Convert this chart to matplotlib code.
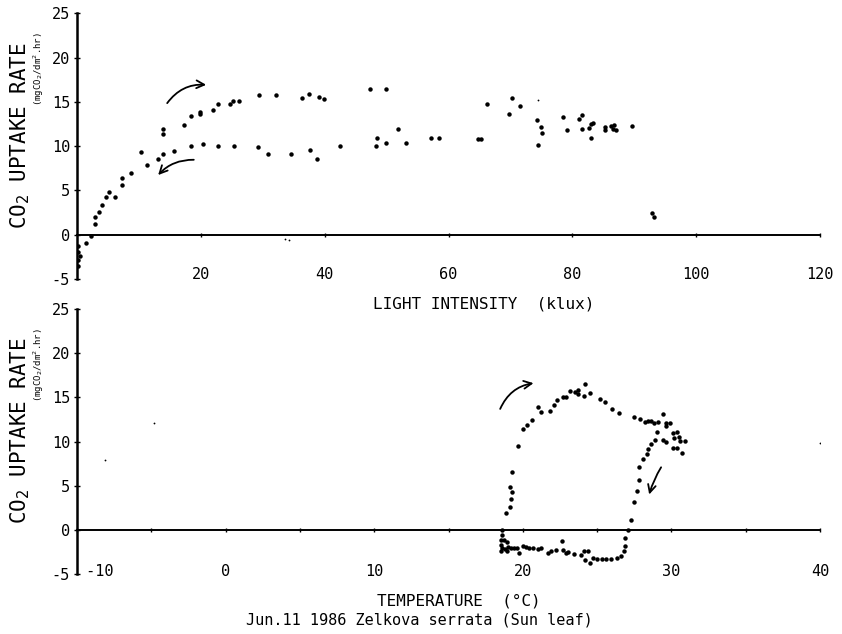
import numpy as np
import matplotlib.pyplot as plt
from matplotlib.patches import FancyArrowPatch

plt.rcParams['font.family'] = ['DejaVu Sans Mono', 'DejaVu Sans']
plt.rcParams['axes.unicode_minus'] = False

# light response curve, klux vs mgCO2/dm2.hr
light_klux = [0.2, 0.1, 0.4, 0.1, 0.2, 1.4, 2.2, 2.9, 2.9, 3.55, 4.1, 4.7, 5.2, 6.2, 7.2, 7.2,
              8.7, 10.4, 11.3, 13.1, 13.9, 13.9, 13.9, 15.7, 17.3, 18.4, 18.4, 19.9, 19.9, 20.4,
              22.0, 22.8, 22.8, 24.7, 25.2, 26.2, 25.4, 29.4, 29.2, 30.9, 32.2, 34.6, 36.4, 37.5,
              37.6, 38.8, 39.1, 39.9, 42.4, 47.3, 48.2, 48.5, 49.9, 49.9, 51.9, 53.1, 57.1, 58.5,
              64.7, 65.3, 66.2, 69.8, 70.2, 71.6, 74.2, 75.0, 75.1, 74.4, 78.4, 79.2, 81.0, 81.5,
              81.6, 82.6, 83.0, 83.4, 83.0, 85.2, 85.2, 86.3, 86.7, 86.6, 87.0, 89.6, 92.9, 93.1]
light_rate = [-1.3, -2.0, -2.4, -2.9, -3.5, -0.9, -0.1, 1.2, 2.0, 2.6, 3.4, 4.2, 4.8, 4.3, 5.6, 6.4,
              7.0, 9.3, 7.9, 8.5, 9.1, 11.4, 11.9, 9.5, 12.4, 10.0, 13.35, 13.9, 13.6, 10.2,
              14.1, 10.0, 14.75, 14.75, 15.05, 15.05, 10.0, 15.8, 9.9, 9.1, 15.8, 9.1, 15.4, 15.9,
              9.55, 8.5, 15.6, 15.3, 10.0, 16.5, 10.05, 10.9, 16.4, 10.3, 11.9, 10.4, 10.9, 10.9,
              10.75, 10.85, 14.8, 13.65, 15.4, 14.55, 12.9, 12.2, 11.5, 10.1, 13.3, 11.85, 13.05, 13.5,
              11.9, 12.0, 12.5, 12.6, 10.95, 12.2, 11.8, 12.3, 12.4, 11.95, 11.85, 12.3, 2.4, 2.0]
light_faint_klux = [74.5, 33.6, 34.2]
light_faint_rate = [15.2, -0.5, -0.6]

# temperature response, degC vs mgCO2/dm2.hr
temp_c = [18.6, 18.6, 18.5, 18.7, 18.9, 18.5, 18.6, 18.8, 18.9, 18.5, 19.0, 19.2, 19.4, 19.6,
          19.75, 20.0, 20.2, 20.4, 20.65, 21.0, 21.2, 21.7, 21.9, 22.2, 22.6, 22.7, 22.9, 23.05,
          23.45, 23.9, 24.1, 24.35, 24.2, 24.5, 24.7, 25.0, 25.3, 25.6, 25.95, 26.3, 26.6, 26.8,
          26.85, 26.9, 27.05,
          18.85, 19.15, 19.2, 19.26, 19.1, 19.3, 19.7, 20.0, 20.3, 20.6, 21.0, 21.2, 21.8, 22.1,
          22.3, 22.7, 22.9, 23.2, 23.5, 23.7, 23.7, 24.1, 24.2, 24.5, 25.2, 25.5, 26.0, 26.5,
          27.5, 27.9, 28.2, 28.4, 28.6, 28.8, 29.1, 29.4, 29.6, 29.9, 29.6, 29.0, 29.4, 29.6,
          30.1, 30.4, 30.2, 30.5, 30.6, 30.9, 30.1, 30.4, 30.7,
          28.9, 28.6, 28.4, 28.35, 28.1, 27.8, 27.8, 27.7, 27.5, 27.3]
temp_rate = [0.0, -0.55, -1.1, -1.2, -1.4, -1.7, -2.0, -2.2, -2.4, -2.45, -1.9, -2.0, -2.1, -2.1,
             -2.6, -1.8, -1.9, -2.0, -2.1, -2.2, -2.1, -2.6, -2.45, -2.3, -1.3, -2.25, -2.6, -2.5,
             -2.7, -2.8, -2.45, -2.35, -3.4, -3.8, -3.2, -3.3, -3.25, -3.3, -3.35, -3.2, -3.0, -2.45,
             -1.8, -0.95, 0.0,
             1.95, 2.6, 3.5, 4.3, 4.8, 6.5, 9.5, 11.4, 11.9, 12.4, 13.95, 13.3, 13.5, 14.1,
             14.7, 15.0, 15.0, 15.7, 15.6, 15.8, 15.35, 15.2, 16.5, 15.5, 14.85, 14.5, 13.7, 13.2,
             12.8, 12.5, 12.25, 12.3, 12.3, 12.1, 12.25, 13.1, 12.1, 12.05, 11.75, 11.1, 10.2, 10.0,
             11.0, 11.05, 10.4, 10.5, 10.1, 10.1, 9.3, 9.3, 8.75,
             10.2, 9.7, 9.1, 8.6, 8.0, 7.1, 5.65, 4.45, 3.1, 1.1]
temp_faint_c = [-8.1, -4.8, 40.0]
temp_faint_rate = [7.9, 12.1, 9.8]

# direction arrows: (start, end, curvature)
light_arrows = [((14.3, 14.6), (21.3, 16.9), -0.3), ((19.3, 8.45), (12.8, 6.5), 0.25)]
temp_arrows = [((18.4, 13.4), (20.9, 16.65), -0.3), ((29.4, 7.35), (28.45, 3.7), 0.08)]

yticks = [-5, 0, 5, 10, 15, 20, 25]


def style_axes(ax, xlim, xticks, xticklabels, minor, label_pad):
    ax.set_xlim(*xlim)
    ax.set_ylim(-5, 25)
    ax.spines['top'].set_visible(False)
    ax.spines['right'].set_visible(False)
    ax.spines['left'].set_linewidth(1.8)
    ax.spines['bottom'].set_position(('data', 0))
    ax.spines['bottom'].set_linewidth(1.4)
    ax.set_xticks(xticks)
    ax.set_xticks(minor, minor=True)
    ax.tick_params(axis='x', which='both', direction='inout', length=3, width=1,
                   labelbottom=False)
    ax.set_yticks(yticks)
    ax.tick_params(axis='y', direction='inout', length=4, width=1, pad=3, labelsize=11)

    # tick labels sit along the bottom edge, not on the zero line
    sec = ax.secondary_xaxis(0.0)
    sec.spines['bottom'].set_visible(False)
    sec.set_xticks(xticks, xticklabels)
    sec.tick_params(length=0, pad=label_pad, labelsize=11)
    return sec


def ylabels(ax):
    ax.text(-0.077, 0.54, 'CO$_2$ UPTAKE RATE', transform=ax.transAxes, rotation=90,
            ha='center', va='center', fontsize=15)
    ax.text(-0.051, 0.79, '(mgCO$_2$/dm$^2$.hr)', transform=ax.transAxes, rotation=90,
            ha='center', va='center', fontsize=6.5)


def draw_arrows(ax, arrows):
    for start, end, rad in arrows:
        ax.add_patch(FancyArrowPatch(start, end, connectionstyle=f'arc3,rad={rad}',
                                     arrowstyle='->', mutation_scale=14, lw=1.3,
                                     color='black'))


fig = plt.figure(figsize=(8.42, 6.34), dpi=100)
ax1 = fig.add_axes([0.0915, 0.56, 0.8825, 0.419])
ax2 = fig.add_axes([0.0915, 0.0946, 0.8825, 0.418])

style_axes(ax1, (0, 120), [20, 40, 60, 80, 100, 120],
           ['20', '40', '60', '80', '100', '120'], [], -8.5)
ax1.plot(light_klux, light_rate, 'o', color='black', ms=3.2, mec='none')
ax1.plot(light_faint_klux, light_faint_rate, 'o', color='black', ms=1.3, mec='none')
draw_arrows(ax1, light_arrows)
ylabels(ax1)
fig.text(0.575, 0.52, 'LIGHT INTENSITY  (klux)', ha='center', va='center', fontsize=11.5)

temp_ticks = [-10, 0, 10, 20, 30, 40]
temp_labels = [' -10', '0', '10', '20', '30', '40']
sec2 = style_axes(ax2, (-10, 40), temp_ticks, temp_labels, [-5, 5, 15, 25, 35], -7)
sec2.get_xticklabels()[0].set_ha('left')
ax2.plot(temp_c, temp_rate, 'o', color='black', ms=3.2, mec='none')
ax2.plot(temp_faint_c, temp_faint_rate, 'o', color='black', ms=1.3, mec='none')
draw_arrows(ax2, temp_arrows)
ylabels(ax2)
fig.text(0.545, 0.052, 'TEMPERATURE  (°C)', ha='center', va='center', fontsize=11.5)
fig.text(0.498, 0.022, 'Jun.11 1986 Zelkova serrata (Sun leaf)', ha='center', va='center',
         fontsize=11)

fig.savefig('out.png', dpi=100)
